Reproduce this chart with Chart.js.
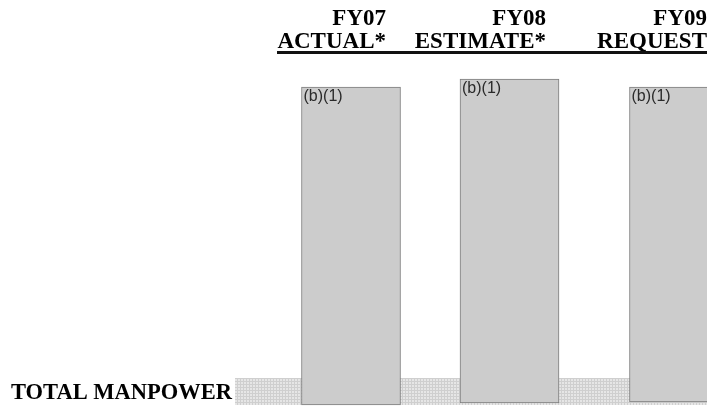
<!DOCTYPE html>
<html>
<head>
<meta charset="utf-8">
<script src="https://cdn.jsdelivr.net/npm/chart.js@4/dist/chart.umd.min.js"></script>
<style>
  html, body { margin: 0; padding: 0; background: #fff; }
  #wrap { width: 707px; height: 408px; position: relative; }
</style>
</head>
<body>
<div id="wrap"><canvas id="manpowerChart"></canvas></div>
<script>
/******* Data for Manpower chart ******/
var fiscalYears = ['FY07', 'FY08', 'FY09'];
var columnTitles = ['ACTUAL*', 'ESTIMATE*', 'REQUEST'];
var barLabels = ['(b)(1)', '(b)(1)', '(b)(1)'];
var columnPos = [351, 509.5, 679];   // column centres on the x scale
var barBase = [3, 5, 6];
var barTop = [321, 329, 321];
var bandRange = [3, 30];            // TOTAL MANPOWER row
var bandStart = 235;
var headerRight = [386, 546, 707];

var barData = columnPos.map(function (x, i) {
  return { x: x, y: [barBase[i], barTop[i]] };
});

// dotted fill for the total row
function dotPattern() {
  var c = document.createElement('canvas');
  c.width = 3; c.height = 3;
  var g = c.getContext('2d');
  g.fillStyle = '#e6e6e6';
  g.fillRect(0, 0, 3, 3);
  g.fillStyle = '#cfcfcf';
  g.fillRect(0, 0, 1, 3);
  g.fillRect(0, 0, 3, 1);
  return g.createPattern(c, 'repeat');
}

var decorations = {
  id: 'decorations',
  beforeDatasetsDraw: function (chart) {
    var ctx = chart.ctx, xs = chart.scales.x, ys = chart.scales.y;
    ctx.save();
    ctx.fillStyle = dotPattern();
    var top = ys.getPixelForValue(bandRange[1]);
    var bottom = ys.getPixelForValue(bandRange[0]);
    ctx.fillRect(xs.getPixelForValue(bandStart), top, chart.width, bottom - top);

    ctx.fillStyle = '#000';
    ctx.font = 'bold 22.5px "Liberation Serif", "Times New Roman", serif';
    ctx.textAlign = 'left';
    ctx.textBaseline = 'alphabetic';
    ctx.fillText('TOTAL MANPOWER', 11, 399);

    // column headers
    ctx.font = 'bold 23px "Liberation Serif", "Times New Roman", serif';
    ctx.textAlign = 'right';
    headerRight.forEach(function (r, i) {
      ctx.fillText(fiscalYears[i], r, 25);
      ctx.fillText(columnTitles[i], r, 48);
    });
    ctx.fillStyle = '#111';
    ctx.fillRect(277, 51, chart.width - 277, 3);
    ctx.restore();
  },
  afterDatasetsDraw: function (chart) {
    var ctx = chart.ctx;
    var meta = chart.getDatasetMeta(0);
    ctx.save();
    ctx.fillStyle = '#2a2a2a';
    ctx.font = '16px "Liberation Sans", Arial, sans-serif';
    ctx.textAlign = 'left';
    ctx.textBaseline = 'top';
    meta.data.forEach(function (bar, i) {
      ctx.fillText(barLabels[i], bar.x - bar.width / 2 + 2, bar.y + 2);
    });
    ctx.restore();
  }
};

var ctx = document.getElementById('manpowerChart');
var manpowerChart = new Chart(ctx, {
  type: 'bar',
  data: {
    datasets: [
      {
        data: barData,
        backgroundColor: '#cccccc',
        borderColor: '#7d7d7d',
        borderWidth: 1,
        borderSkipped: false,
        barThickness: 99
      }
    ]
  },
  options: {
    responsive: true,
    maintainAspectRatio: false,
    animation: false,
    layout: { padding: 0 },
    plugins: {
      legend: { display: false },
      tooltip: { enabled: false }
    },
    scales: {
      x: { type: 'linear', min: 0, max: 707, offset: false, display: false },
      y: { min: 0, max: 408, display: false }
    }
  },
  plugins: [decorations]
});
</script>
</body>
</html>
